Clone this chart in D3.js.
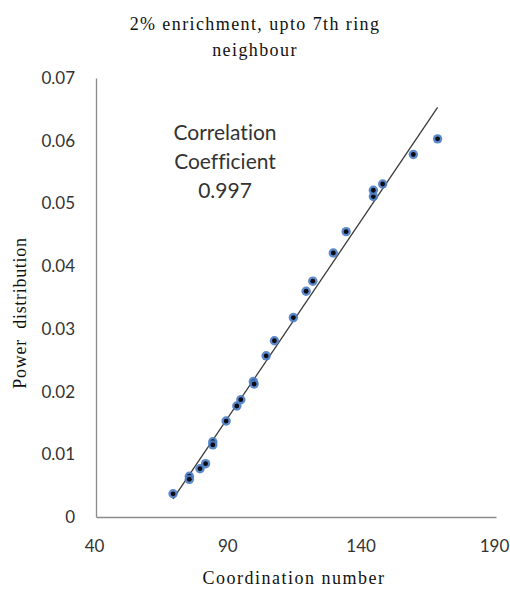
<!DOCTYPE html>
<html>
<head>
<meta charset="utf-8">
<script src="https://cdn.jsdelivr.net/npm/d3@7"></script>
<style>
  body { margin: 0; background: #fff; }
  .tick-label { font-family: Lato, "Open Sans", sans-serif; font-size: 17px; fill: #333; font-variant-ligatures: none; }
  .serif { font-family: "Liberation Serif", "DejaVu Serif", serif; fill: #111; font-size: 18px; }
</style>
</head>
<body>
<div id="chart"></div>
<script>
(function() {
  // coordination number vs power distribution
  var coordination = [68.9, 75.0, 75.0, 79.0, 81.1, 83.8, 83.8, 88.8, 92.8, 94.3, 99.0, 99.3,
    103.8, 106.9, 114.0, 118.8, 121.3, 129.0, 133.8, 144.0, 144.0, 147.5, 159.0, 168.1];
  var power = [0.0037, 0.0065, 0.0060, 0.0077, 0.0085, 0.0120, 0.0115, 0.0153, 0.0177, 0.0187, 0.0216, 0.0212,
    0.0257, 0.0281, 0.0318, 0.0360, 0.0376, 0.0421, 0.0455, 0.0511, 0.0521, 0.0531, 0.0578, 0.0603];
  var xTicks = [40, 90, 140, 190];
  var yTicks = [0, 0.01, 0.02, 0.03, 0.04, 0.05, 0.06, 0.07];
  var titleLines = ['2% enrichment, upto 7th ring', 'neighbour'];
  var corrLines = ['Correlation', 'Coefficient', '0.997'];

  var width = 510, height = 589;
  var margin = {top: 78, right: 14, bottom: 72, left: 96};

  var svg = d3.select('#chart').append('svg')
    .attr('width', width).attr('height', height);

  var x = d3.scaleLinear().domain([40, 190]).range([margin.left, width - margin.right]);
  var y = d3.scaleLinear().domain([0, 0.07]).range([height - margin.bottom, margin.top]);

  var points = coordination.map(function(c, i) { return {x: c, y: power[i]}; });

  // axes: just the lines, Excel style labels
  var xAxis = svg.append('g').attr('transform', 'translate(0,' + y(0) + ')')
    .call(d3.axisBottom(x).tickValues(xTicks).tickSize(0).tickPadding(23));
  xAxis.selectAll('.tick text').attr('dx', -2);
  var yAxis = svg.append('g').attr('transform', 'translate(' + x(40) + ',0)')
    .call(d3.axisLeft(y).tickValues(yTicks).tickSize(0).tickPadding(21)
      .tickFormat(function(d) { return d === 0 ? '0' : d3.format('.2f')(d); }));
  [xAxis, yAxis].forEach(function(a) {
    a.select('.domain').attr('stroke', '#8c8c8c').attr('stroke-width', 1.3);
    a.selectAll('text').attr('class', 'tick-label');
  });

  // least squares trend line over the data range
  var mx = d3.mean(points, function(d) { return d.x; });
  var my = d3.mean(points, function(d) { return d.y; });
  var sxy = d3.sum(points, function(d) { return (d.x - mx) * (d.y - my); });
  var sxx = d3.sum(points, function(d) { return (d.x - mx) * (d.x - mx); });
  var slope = sxy / sxx, icpt = my - slope * mx;
  var ext = d3.extent(coordination);
  svg.append('line')
    .attr('x1', x(ext[0])).attr('y1', y(slope * ext[0] + icpt))
    .attr('x2', x(ext[1])).attr('y2', y(slope * ext[1] + icpt))
    .attr('stroke', '#3a3a3a').attr('stroke-width', 1.3);

  var marks = svg.append('g').selectAll('g').data(points).join('g')
    .attr('transform', function(d) { return 'translate(' + x(d.x) + ',' + y(d.y) + ')'; });
  marks.append('circle').attr('r', 4.7).attr('fill', '#4a7cc4').attr('opacity', 0.9);
  marks.append('circle').attr('r', 2.4).attr('fill', '#0b0b14');

  svg.append('g').selectAll('text').data(titleLines).join('text')
    .attr('class', 'serif').attr('text-anchor', 'middle')
    .attr('x', 255).attr('y', function(d, i) { return 30 + i * 26; })
    .style('letter-spacing', '1.4px').text(function(d) { return d; });

  svg.append('g').selectAll('text').data(corrLines).join('text')
    .attr('class', 'tick-label').attr('text-anchor', 'middle')
    .attr('x', 225).attr('y', function(d, i) { return 140 + i * 29; })
    .style('font-size', '21px').text(function(d) { return d; });

  svg.append('text').attr('class', 'serif').attr('text-anchor', 'middle')
    .attr('x', 294).attr('y', 584).style('letter-spacing', '1.5px')
    .text('Coordination number');

  svg.append('text').attr('class', 'serif').attr('text-anchor', 'middle')
    .attr('transform', 'translate(26,313) rotate(-90)')
    .style('white-space', 'pre').style('letter-spacing', '0.7px')
    .text('Power  distribution');
})();
</script>
</body>
</html>
